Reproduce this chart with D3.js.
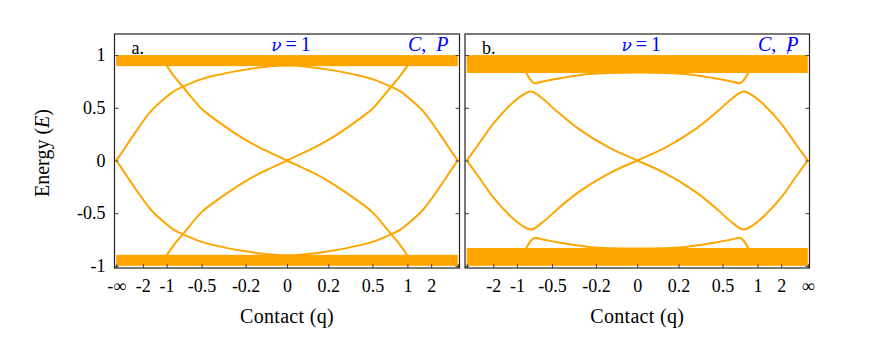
<!DOCTYPE html>
<html>
<head>
<meta charset="utf-8">
<style>
  body { margin: 0; background: #fff; }
  svg { display: block; font-family: 'Liberation Serif', serif; }
  .tick text { font-size: 18px; fill: #000; font-family: 'Liberation Serif', serif; }
  .tick line { stroke: #444; }
  .domain { display: none; }
</style>
</head>
<body>
<svg width="872" height="338"></svg>
<script src="https://d3js.org/d3.v7.min.js"></script>
<script>
// tick values and labels
const qTicks = [-Infinity, -2, -1, -0.5, -0.2, 0, 0.2, 0.5, 1, 2, Infinity];
const qTickLabelsA = ["-∞", "-2", "-1", "-0.5", "-0.2", "0", "0.2", "0.5", "1", "2", ""];
const qTickLabelsB = ["", "-2", "-1", "-0.5", "-0.2", "0", "0.2", "0.5", "1", "2", "∞"];
const eTicks = [-1, -0.5, 0, 0.5, 1];
const eTickLabels = ["-1", "-0.5", "0", "0.5", "1"];

// panel a: bulk bands [low, high] and edge-state curves
const bandsA = [[0.895, 1.0], [-1.0, -0.895]];
const qGridA = [-Infinity, -12, -3, -1.5, -1, -0.85, -0.7, -0.5, -0.4, -0.2, -0.1, 0,
                0.1, 0.2, 0.4, 0.5, 0.7, 0.85, 1, 1.5, 3, 12, Infinity];
const domeUpperA = [0, 0.06, 0.25, 0.47, 0.605, 0.658, 0.703, 0.772, 0.803, 0.862, 0.888, 0.9,
                    0.888, 0.862, 0.803, 0.772, 0.703, 0.658, 0.605, 0.47, 0.25, 0.06, 0];
const domeLowerA = [0, -0.06, -0.25, -0.47, -0.605, -0.658, -0.703, -0.772, -0.803, -0.862, -0.888, -0.9,
                    -0.888, -0.862, -0.803, -0.772, -0.703, -0.658, -0.605, -0.47, -0.25, -0.06, 0];
const crossDownA = [null, null, null, null, 0.9, 0.80, 0.69, 0.49, 0.40, 0.195, 0.095, 0,
                    -0.095, -0.195, -0.40, -0.49, -0.69, -0.80, -0.9, null, null, null, null];
const crossUpA = [null, null, null, null, -0.9, -0.80, -0.69, -0.49, -0.40, -0.195, -0.095, 0,
                  0.095, 0.195, 0.40, 0.49, 0.69, 0.80, 0.9, null, null, null, null];

// panel b
const bandsB = [[0.83, 1.0], [-1.0, -0.83]];
const qGridB = [-Infinity, -20, -5, -2, -1.2, -0.9, -0.74, -0.6, -0.45, -0.3, -0.13, 0,
                0.13, 0.3, 0.45, 0.6, 0.74, 0.9, 1.2, 2, 5, 20, Infinity];
const edgeOneB = [0, 0.035, 0.14, 0.35, 0.52, 0.615, 0.655, 0.59, 0.46, 0.30, 0.12, 0,
                  -0.12, -0.30, -0.46, -0.59, -0.655, -0.615, -0.52, -0.35, -0.14, -0.035, 0];
const edgeTwoB = [0, -0.035, -0.14, -0.35, -0.52, -0.615, -0.655, -0.59, -0.46, -0.30, -0.12, 0,
                  0.12, 0.30, 0.46, 0.59, 0.655, 0.615, 0.52, 0.35, 0.14, 0.035, 0];
const qGridSmallB = [-0.82, -0.76, -0.7, -0.59, -0.43, -0.24, 0, 0.24, 0.43, 0.59, 0.7, 0.76, 0.82];
const smallUpperB = [0.835, 0.775, 0.735, 0.75, 0.78, 0.82, 0.835, 0.82, 0.78, 0.75, 0.735, 0.775, 0.835];
const smallLowerB = [-0.835, -0.775, -0.735, -0.75, -0.78, -0.82, -0.835, -0.82, -0.78, -0.75, -0.735, -0.775, -0.835];

const svg = d3.select("svg");
const y = d3.scaleLinear().domain([-1.02, 1.2]).range([268, 34]);
const toU = q => 2 / Math.PI * Math.atan(2 * q);

const panels = [
  { left: 114.5, right: 459.5, tag: "a.", tickLabels: qTickLabelsA, yLabels: true, slash: false,
    bands: bandsA,
    curves: [[qGridA, domeUpperA], [qGridA, domeLowerA], [qGridA, crossDownA], [qGridA, crossUpA]] },
  { left: 465, right: 809.5, tag: "b.", tickLabels: qTickLabelsB, yLabels: false, slash: true,
    bands: bandsB,
    curves: [[qGridB, edgeOneB], [qGridB, edgeTwoB], [qGridSmallB, smallUpperB], [qGridSmallB, smallLowerB]] }
];

panels.forEach(p => {
  const u = d3.scaleLinear().domain([-1.01, 1.01]).range([p.left, p.right]);
  const xq = q => u(toU(q));
  const g = svg.append("g");

  const line = d3.line()
    .defined(d => d.e !== null)
    .x(d => xq(d.q))
    .y(d => y(d.e))
    .curve(d3.curveCatmullRom.alpha(0.5));

  g.selectAll(".curve")
    .data(p.curves)
    .join("path")
    .attr("class", "curve")
    .attr("d", c => line(c[0].map((q, i) => ({ q: q, e: c[1][i] }))))
    .style("fill", "none")
    .style("stroke", "orange")
    .style("stroke-width", "2px");

  g.selectAll(".band")
    .data(p.bands)
    .join("rect")
    .attr("class", "band")
    .attr("x", xq(-Infinity))
    .attr("width", xq(Infinity) - xq(-Infinity))
    .attr("y", d => y(d[1]))
    .attr("height", d => y(d[0]) - y(d[1]))
    .style("fill", "orange");

  // axes
  g.append("g")
    .attr("transform", `translate(0,268)`)
    .call(d3.axisBottom(u)
      .tickValues(qTicks.map(toU))
      .tickSize(-4)
      .tickPadding(11)
      .tickFormat((d, i) => p.tickLabels[i]));

  g.append("g")
    .attr("transform", `translate(${p.left},0)`)
    .call(d3.axisLeft(y)
      .tickValues(eTicks)
      .tickSize(-4)
      .tickPadding(9)
      .tickFormat((d, i) => p.yLabels ? eTickLabels[i] : ""));

  g.append("g")
    .attr("transform", `translate(${p.right},0)`)
    .call(d3.axisRight(y).tickValues(eTicks).tickSize(-4).tickFormat(""));

  g.append("rect")
    .attr("x", p.left).attr("y", 34)
    .attr("width", p.right - p.left).attr("height", 234)
    .style("fill", "none").style("stroke", "#222").style("stroke-width", "1.2px");

  // labels
  g.append("text")
    .attr("x", p.left + 17).attr("y", 53.5)
    .style("font-size", "18px")
    .text(p.tag);

  const mid = (p.left + p.right) / 2;
  const nu = g.append("text")
    .attr("x", mid + 4).attr("y", 51)
    .attr("text-anchor", "middle")
    .style("font-size", "20px").style("fill", "blue");
  nu.append("tspan").style("font-style", "italic").style("font-family", "'DejaVu Serif', serif")
    .style("font-size", "17px").text("ν");
  nu.append("tspan").text("\u2009=\u20091");

  const cp = g.append("text")
    .attr("x", p.right - 11).attr("y", 51)
    .attr("text-anchor", "end")
    .style("font-size", "20px").style("fill", "blue");
  cp.append("tspan").style("font-style", "italic").text("C");
  cp.append("tspan").text(",\u2002");
  cp.append("tspan").style("font-style", "italic").text("P");
  if (p.slash) {
    g.append("text")
      .attr("x", p.right - 20).attr("y", 54)
      .attr("text-anchor", "middle")
      .style("font-size", "20px").style("fill", "blue")
      .text("/");
  }

  g.append("text")
    .attr("x", mid).attr("y", 323)
    .attr("text-anchor", "middle")
    .style("font-size", "20px")
    .style("letter-spacing", "0.3px")
    .text("Contact (q)");
});

const ylab = svg.append("text")
  .attr("transform", "translate(49,153) rotate(-90)")
  .attr("text-anchor", "middle")
  .style("font-size", "20px");
ylab.append("tspan").text("Energy (");
ylab.append("tspan").style("font-style", "italic").text("E");
ylab.append("tspan").text(")");
</script>
</body>
</html>
